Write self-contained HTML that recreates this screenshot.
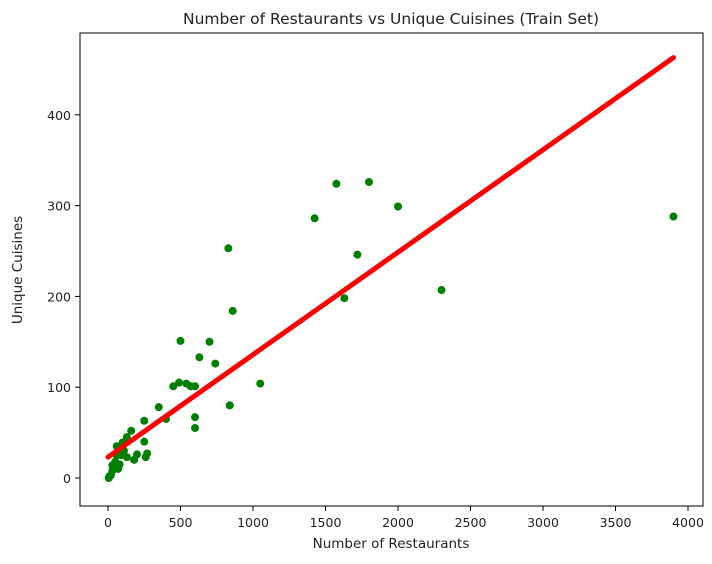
<!DOCTYPE html>
<html><head><meta charset="utf-8"><style>
body{margin:0;background:#fff;font-family:"Liberation Sans","DejaVu Sans",sans-serif;}
</style></head><body>
<svg width="712" height="559" id="c" font-family="DejaVu Sans, Liberation Sans, sans-serif">
<text x="391" y="24" text-anchor="middle" font-size="15.5" fill="#222">Number of Restaurants vs Unique Cuisines (Train Set)</text>
<text x="391" y="548" text-anchor="middle" font-size="13.5" fill="#222">Number of Restaurants</text>
<text transform="translate(22,270) rotate(-90)" text-anchor="middle" font-size="13.5" fill="#222">Unique Cuisines</text>
<g id="marks"></g>
<rect x="80" y="33" width="623" height="473" fill="none" stroke="#000" stroke-width="1"/>
</svg>
<script>
const xs=[3900,2300,2000,1800,1575,1720,1630,1425,830,860,1050,840,500,700,740,630,600,600,600,450,490,540,570,350,400,250,250,160,130,100,60,270,260,200,180,130,80,70,50,30,20,5,10,40,90,110,60,30];
const ys=[288,207,299,326,324,246,198,286,253,184,104,80,151,150,126,133,101,67,55,101,105,104,101,78,65,63,40,52,45,39,35,27,23,26,20,23,15,10,18,8,3,0,2,12,25,30,25,14];
const fitX=[0,3900];
const fitY=[23,463];
const xTicks=[0,500,1000,1500,2000,2500,3000,3500,4000];
const yTicks=[0,100,200,300,400];
const X=v=>108+v*0.145, Y=v=>478-v*0.908;
const NS="http://www.w3.org/2000/svg";
const g=document.getElementById('marks');
function mk(t,a,p){const e=document.createElementNS(NS,t);for(const k in a)e.setAttribute(k,a[k]);(p||g).appendChild(e);return e;}
xTicks.forEach(v=>{
 const l=mk('line',{x1:X(v),x2:X(v),y1:506,y2:511,stroke:'#000'});
 
 
 const t=mk('text',{x:X(v),y:527,'text-anchor':'middle','font-size':12.5,fill:'#222'});t.textContent=v;
 
 
});
yTicks.forEach(v=>{
 const l=mk('line',{x1:75,x2:80,y1:Y(v),y2:Y(v),stroke:'#000'});
 
 
 const t=mk('text',{x:71,y:Y(v)+5,'text-anchor':'end','font-size':12.5,fill:'#222'});t.textContent=v;
 
 
});
xs.forEach((v,i)=>{
 const c=mk('circle',{cx:X(v),cy:Y(ys[i]),r:4,fill:'#008000'});
 
 
});
const ln=mk('line',{x1:X(fitX[0]),y1:Y(fitY[0]),x2:X(fitX[1]),y2:Y(fitY[1]),stroke:'#ff0000','stroke-width':5,'stroke-linecap':'round'});


</script>
</body></html>
